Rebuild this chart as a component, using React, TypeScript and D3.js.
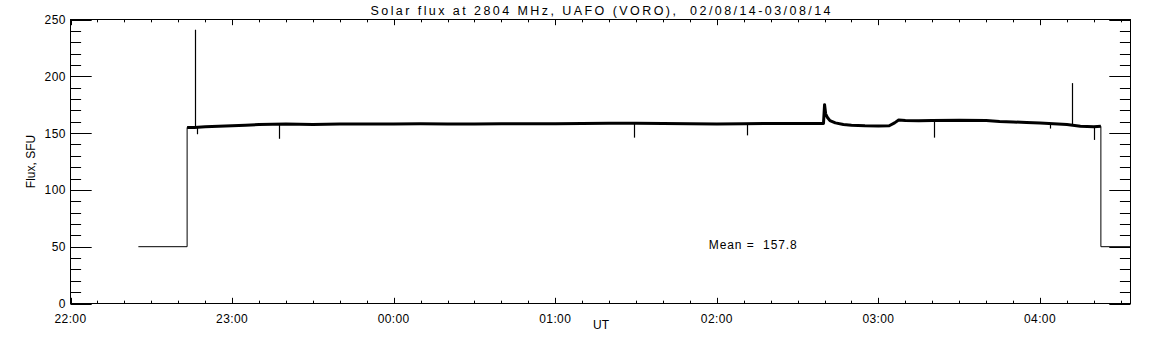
import React from 'react';
import * as d3 from 'd3';

const W = 1152;
const H = 345;

const TITLE = 'Solar flux at 2804 MHz, UAFO (VORO),  02/08/14-03/08/14';
const Y_LABEL = 'Flux, SFU';
const X_LABEL = 'UT';
const MEAN_TEXT = 'Mean =  157.8';
const MEAN_POS = [237, 50]; // minutes after 22:00, flux

// x axis: minutes after 22:00 UT
const xDomain = [0, 393.6];
const xMajorLabels = ['22:00', '23:00', '00:00', '01:00', '02:00', '03:00', '04:00'];
const xMajorMinutes = [0, 60, 120, 180, 240, 300, 360];
const yDomain = [0, 250];
const yMajorTicks = [0, 50, 100, 150, 200, 250];

// Main trace (minutes after 22:00, flux in SFU)
const traceMinutes = [
  25.2, 43.3, 43.3, 46, 50, 55, 60, 65, 70, 80, 90, 100, 110, 120, 130, 140, 150, 160, 170,
  180, 190, 200, 210, 220, 230, 240, 250, 260, 270, 279.6, 280, 280.4, 281, 282, 284, 287,
  290, 295, 300, 304, 306, 307.5, 310, 315, 320, 330, 340, 345, 350, 355, 360, 365, 370,
  375, 380, 382.6, 382.6, 393.6,
];
const traceFlux = [
  50, 50, 155, 155, 155.5, 156, 156.5, 157, 157.5, 158, 157.6, 158, 158, 158, 158.2, 158,
  158, 158.2, 158.3, 158.3, 158.5, 158.6, 158.7, 158.5, 158.3, 158, 158.3, 158.5, 158.5,
  158.5, 175, 167, 164, 161, 159, 157.5, 157, 156.5, 156.3, 156.5, 159, 161.5, 161, 160.8,
  161, 161.3, 161, 160.2, 159.8, 159.3, 158.8, 158.3, 157.5, 156, 155.5, 156, 50, 50,
];

// Short spikes and dips (minutes after 22:00, flux)
const spikeMinutes = [46.1, 46.8, 77.5, 209.3, 251.2, 320.6, 363.6, 371.8, 380];
const spikeFlux = [241, 149, 145, 146, 148, 146, 154, 194, 144];

const FONT = '"Liberation Sans", Arial, sans-serif';

export default function App() {
  const x = d3.scaleLinear().domain(xDomain).range([70.5, 1130.5]);
  const y = d3.scaleLinear().domain(yDomain).range([303.5, 19.5]);

  const pts: [number, number][] = traceMinutes.map((t, i) => [t, traceFlux[i]]);
  const line = d3
    .line<[number, number]>()
    .x((d) => x(d[0]))
    .y((d) => y(d[1]));
  const obsPts = pts.filter((d) => d[1] > 100);

  const interp = (t: number) => {
    const i = d3.bisector((d: [number, number]) => d[0]).right(obsPts, t);
    const a = obsPts[Math.max(0, i - 1)];
    const b = obsPts[Math.min(obsPts.length - 1, i)];
    if (b[0] === a[0]) return a[1];
    return a[1] + ((b[1] - a[1]) * (t - a[0])) / (b[0] - a[0]);
  };

  const xMinor = d3.range(0, xDomain[1], 10);
  const yMinor = d3.range(0, 251, 10);
  const x0 = x(xDomain[0]);
  const x1 = x(xDomain[1]);
  const yT = y(yDomain[1]);
  const yB = y(yDomain[0]);
  const yTickLen = (x1 - x0) * 0.02;
  const xTickLen = (yB - yT) * 0.02;

  return (
    <svg
      width={W}
      height={H}
      style={{ position: 'absolute', left: 0, top: 0, background: '#fff' }}
      fontFamily={FONT}
    >
      <rect x={0} y={0} width={W} height={H} fill="#fff" />
      {/* frame */}
      <rect x={x0} y={yT} width={x1 - x0} height={yB - yT} fill="none" stroke="#000" strokeWidth={1} />

      {/* x ticks bottom & top */}
      {xMinor.map((t) => {
        const major = t % 60 === 0;
        const L = major ? xTickLen : xTickLen / 2;
        const px = Math.round(x(t)) + 0.5;
        return (
          <g key={'xt' + t}>
            <line x1={px} x2={px} y1={yB} y2={yB - L} stroke="#000" />
            <line x1={px} x2={px} y1={yT} y2={yT + L} stroke="#000" />
          </g>
        );
      })}
      {/* y ticks left & right */}
      {yMinor.map((v) => {
        const major = v % 50 === 0;
        const L = major ? yTickLen : yTickLen / 2;
        const py = Math.round(y(v)) + 0.5;
        return (
          <g key={'yt' + v}>
            <line x1={x0} x2={x0 + L} y1={py} y2={py} stroke="#000" />
            <line x1={x1} x2={x1 - L} y1={py} y2={py} stroke="#000" />
          </g>
        );
      })}

      {/* tick labels */}
      {xMajorMinutes.map((t, i) => (
        <text key={'xl' + t} x={x(t)} y={322.5} textAnchor="middle" fontSize={12} letterSpacing={0.4}>
          {xMajorLabels[i]}
        </text>
      ))}
      {yMajorTicks.map((v) => (
        <text key={'yl' + v} x={66} y={y(v) + 4.5} textAnchor="end" fontSize={12} letterSpacing={0.5}>
          {v}
        </text>
      ))}

      {/* titles */}
      <text
        x={(x0 + x1) / 2}
        y={14.5}
        textAnchor="middle"
        fontSize={12.5}
        textLength={460}
        lengthAdjust="spacing"
        style={{ whiteSpace: 'pre' }}
      >
        {TITLE}
      </text>
      <text x={601} y={329} textAnchor="middle" fontSize={12}>
        {X_LABEL}
      </text>
      <text
        transform={`translate(34.5, ${(yT + yB) / 2}) rotate(-90)`}
        textAnchor="middle"
        fontSize={12}
      >
        {Y_LABEL}
      </text>

      {/* data */}
      <path d={line(pts) || ''} fill="none" stroke="#000" strokeWidth={1} />
      <path
        d={line(obsPts) || ''}
        fill="none"
        stroke="#000"
        strokeWidth={3}
        strokeLinejoin="round"
      />
      {spikeMinutes.map((t, i) => (
        <line
          key={'sp' + i}
          x1={Math.round(x(t)) + 0.5}
          x2={Math.round(x(t)) + 0.5}
          y1={y(interp(t))}
          y2={y(spikeFlux[i])}
          stroke="#000"
          strokeWidth={1.2}
        />
      ))}

      <text
        x={x(MEAN_POS[0])}
        y={y(MEAN_POS[1]) + 2}
        fontSize={12}
        textLength={88}
        lengthAdjust="spacing"
        style={{ whiteSpace: 'pre' }}
      >
        {MEAN_TEXT}
      </text>
    </svg>
  );
}
